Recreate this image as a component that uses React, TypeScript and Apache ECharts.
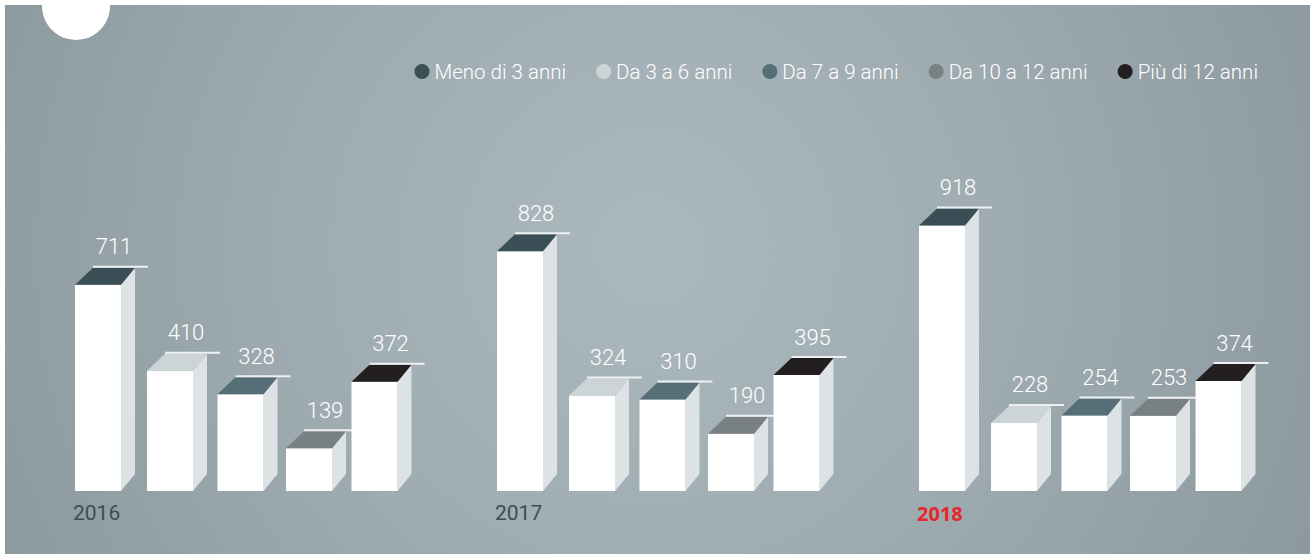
import React, { useEffect, useRef } from "react";
import * as echarts from "echarts";

const years = ["2016", "2017", "2018"];
const seriesNames = [
  "Meno di 3 anni",
  "Da 3 a 6 anni",
  "Da 7 a 9 anni",
  "Da 10 a 12 anni",
  "Più di 12 anni",
];
const meno3 = [711, 828, 918];
const da3a6 = [410, 324, 228];
const da7a9 = [328, 310, 254];
const da10a12 = [139, 190, 253];
const piu12 = [372, 395, 374];
const seriesValues = [meno3, da3a6, da7a9, da10a12, piu12];
const topColors = ["#3a4e56", "#cdd4d7", "#566e77", "#798084", "#231f20"];
const highlightYear = "2018";

// layout constants (fractions of the category band)
const BAR_OFFSETS = [-0.3957, -0.2251, -0.0581, 0.1043, 0.2595];
const BAR_W = 46;
const DX_L = 18;
const DX_R = 14;
const DY = 17;
const Y_MIN = -10;
const FONT = "Roboto, 'Open Sans', sans-serif";

export default function App() {
  const ref = useRef<HTMLDivElement>(null);
  useEffect(() => {
    document.body.style.margin = "0";
    const chart = echarts.init(ref.current!, null, { renderer: "svg" });

    const renderItem = (params: any, api: any) => {
      const si = params.seriesIndex;
      const cat = api.value(0);
      const val = api.value(1);
      const top = api.coord([cat, val]);
      const base = api.coord([cat, Y_MIN]);
      const band = api.size([1, 0])[0];
      const x = top[0] + band * BAR_OFFSETS[si];
      const yT = top[1];
      const yB = base[1];
      const children: any[] = [
        {
          type: "polygon",
          shape: {
            points: [
              [x + BAR_W, yT],
              [x + BAR_W + DX_R, yT - DY],
              [x + BAR_W + DX_R, yB - DY],
              [x + BAR_W, yB],
            ],
          },
          style: { fill: "#dde2e5" },
        },
        {
          type: "rect",
          shape: { x: x, y: yT, width: BAR_W, height: yB - yT },
          style: { fill: "#ffffff" },
        },
        {
          type: "polygon",
          shape: {
            points: [
              [x, yT],
              [x + BAR_W, yT],
              [x + BAR_W + DX_R, yT - DY],
              [x + DX_L, yT - DY],
            ],
          },
          style: { fill: topColors[si] },
        },
        {
          type: "line",
          shape: { x1: x + DX_L, y1: yT - DY - 1, x2: x + 73, y2: yT - DY - 1 },
          style: { stroke: "#eef1f2", lineWidth: 2 },
        },
        {
          type: "text",
          x: x + (DX_L + BAR_W + DX_R) / 2,
          y: yT - DY - 21,
          style: {
            text: String(val),
            fill: "#ffffff",
            fontSize: 22,
            fontWeight: 300,
            fontFamily: FONT,
            align: "center",
            verticalAlign: "middle",
          },
        },
      ];
      if (si === 0) {
        const yr = years[cat];
        const hi = yr === highlightYear;
        children.push({
          type: "text",
          x: x - 2,
          y: yB + 22,
          style: {
            text: yr,
            fill: hi ? "#e5262b" : "#3b4d55",
            fontSize: hi ? 20 : 21,
            fontWeight: hi ? "bold" : 400,
            fontFamily: hi ? "'Open Sans', sans-serif" : FONT,
            align: "left",
            verticalAlign: "middle",
          },
        });
      }
      return { type: "group", children };
    };

    chart.setOption({
      animation: false,
      color: topColors,
      graphic: [
        {
          type: "rect",
          z: -10,
          silent: true,
          shape: { x: 5, y: 5, width: 1305, height: 549 },
          style: {
            fill: new echarts.graphic.RadialGradient(
              650,
              250,
              720,
              [
                { offset: 0, color: "#abb8be" },
                { offset: 0.5, color: "#9eabb1" },
                { offset: 1, color: "#8c999f" },
              ],
              true
            ),
          },
        },
        {
          type: "circle",
          z: -9,
          silent: true,
          shape: { cx: 76, cy: 6, r: 34 },
          style: { fill: "#ffffff" },
        },
      ],
      legend: {
        right: 47,
        top: 56,
        icon: "circle",
        itemWidth: 15,
        itemHeight: 15,
        itemGap: 30,
        data: seriesNames,
        textStyle: {
          color: "#ffffff",
          fontSize: 20.5,
          fontWeight: 300,
          fontFamily: FONT,
        },
      },
      grid: { left: 31, right: 13, top: 202, bottom: 63 },
      xAxis: {
        type: "category",
        data: years,
        show: false,
      },
      yAxis: { type: "value", min: Y_MIN, max: 1000, show: false },
      series: seriesValues.map((vals, i) => ({
        type: "custom",
        name: seriesNames[i],
        itemStyle: { color: topColors[i] },
        renderItem,
        encode: { x: 0, y: 1 },
        data: vals.map((v, j) => [j, v]),
      })),
    });
    return () => chart.dispose();
  }, []);
  return <div ref={ref} style={{ width: 1310, height: 554 }} />;
}
